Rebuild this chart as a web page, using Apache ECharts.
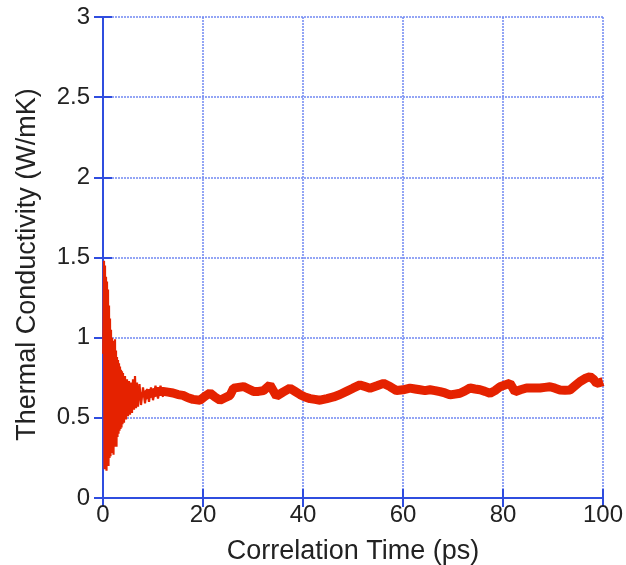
<!DOCTYPE html>
<html>
<head>
<meta charset="utf-8">
<script src="https://cdn.jsdelivr.net/npm/echarts@6/dist/echarts.min.js"></script>
<style>
html, body { margin: 0; padding: 0; background: #fff; }
#chart { width: 626px; height: 565px; }
</style>
</head>
<body>
<div id="chart"></div>
<script>
// axis ticks
var xTicks = [0, 20, 40, 60, 80, 100];
var yTicks = [0, 0.5, 1, 1.5, 2, 2.5, 3];

// early oscillating part (0-12 ps), read as alternating peaks / troughs
var timeEarly = [0.05, 0.2, 0.3, 0.4, 0.5, 0.6, 0.7, 0.8, 0.9, 1.0, 1.1, 1.2, 1.3, 1.4, 1.5, 1.6, 1.7, 1.8, 1.9, 2.0,
	2.1, 2.2, 2.3, 2.4, 2.5, 2.6, 2.7, 2.8, 2.9, 3.0, 3.1, 3.2, 3.3, 3.4, 3.5, 3.6, 3.7, 3.8, 3.9, 4.0,
	4.2, 4.4, 4.6, 4.8, 5.0, 5.2, 5.4, 5.6, 5.8, 6.0, 6.2, 6.4, 6.6, 6.8, 7.0, 7.3, 7.6, 8.0, 8.4, 8.8,
	9.2, 9.6, 10.0, 10.5, 11.0, 11.5, 12.0];
var valEarly = [0.9, 1.48, 0.18, 1.45, 0.2, 1.38, 0.17, 1.35, 0.22, 1.3, 0.2, 1.2, 0.25, 1.12, 0.26, 1.05, 0.28, 1.0, 0.3, 0.98,
	0.27, 0.95, 0.32, 0.99, 0.34, 0.92, 0.32, 0.88, 0.38, 0.86, 0.4, 0.84, 0.42, 0.82, 0.43, 0.8, 0.44, 0.79, 0.46, 0.78,
	0.47, 0.76, 0.49, 0.74, 0.51, 0.73, 0.52, 0.72, 0.53, 0.74, 0.55, 0.76, 0.56, 0.72, 0.57, 0.71, 0.58, 0.69, 0.59, 0.68,
	0.6, 0.69, 0.61, 0.7, 0.62, 0.7, 0.63];

// settled part (8-100 ps), centre of the noisy band
var timeMain = [8, 9, 10, 11, 12, 13, 14, 15, 16, 17, 18, 19.4, 20.4, 21.4, 22.4, 23.4, 24.4, 25.4, 26.1, 27.1,
	28.1, 29.1, 30.1, 31.1, 32.1, 33.4, 34.7, 36, 37.4, 38.4, 39.4, 40.4, 41.4, 42.4, 43.4, 44.8, 46.1, 47.4, 48.7, 50,
	51.4, 52.4, 53.4, 54.8, 56.1, 57.4, 58.7, 60, 61.4, 62.4, 63.4, 64.4, 65.4, 66.4, 67.4, 68.4, 69.4, 70.4, 71.4, 72.4,
	73.4, 74.4, 75.4, 76.4, 77.4, 78.4, 79.4, 80.4, 81.4, 82.4, 83.5, 84.7, 86, 87.4, 88.4, 89.4, 90.4, 91.4, 92.4, 93.4,
	94.4, 95.4, 96.4, 97.4, 98.1, 98.7, 99.4, 100];
var valMain = [0.635, 0.65, 0.655, 0.665, 0.665, 0.66, 0.655, 0.645, 0.64, 0.625, 0.615, 0.61, 0.635, 0.655, 0.63, 0.61, 0.625, 0.64, 0.685, 0.69,
	0.695, 0.68, 0.665, 0.665, 0.67, 0.705, 0.635, 0.66, 0.685, 0.665, 0.645, 0.63, 0.62, 0.615, 0.61, 0.62, 0.63, 0.645, 0.665, 0.685,
	0.705, 0.695, 0.685, 0.7, 0.715, 0.695, 0.67, 0.675, 0.685, 0.68, 0.675, 0.67, 0.675, 0.67, 0.663, 0.655, 0.643, 0.648, 0.653, 0.668,
	0.686, 0.68, 0.675, 0.665, 0.653, 0.67, 0.694, 0.705, 0.716, 0.663, 0.675, 0.686, 0.686, 0.686, 0.69, 0.694, 0.685, 0.674, 0.672, 0.674,
	0.7, 0.726, 0.745, 0.757, 0.74, 0.716, 0.72, 0.726];

var red = '#e52200';
var blue = '#2f4ddf';
var gridBlue = '#7088f2';
var font = 'Liberation Sans, Arial, Helvetica, sans-serif';

var earlyData = timeEarly.map(function (t, i) { return [t, valEarly[i]]; });
var mainData = timeMain.map(function (t, i) { return [t, valMain[i]]; });

var chart = echarts.init(document.getElementById('chart'));

var option = {
	backgroundColor: '#fff',
	animation: false,
	grid: { left: 103, right: 23, top: 17, bottom: 67, outerBoundsMode: 'none' },
	xAxis: [{
		type: 'value',
		min: xTicks[0],
		max: xTicks[xTicks.length - 1],
		interval: 20,
		name: 'Correlation Time (ps)',
		nameLocation: 'middle',
		nameGap: 40,
		nameTextStyle: { fontFamily: font, fontSize: 27, color: '#222' },
		axisLine: { lineStyle: { color: blue, width: 2 } },
		axisTick: { inside: true, length: 9, lineStyle: { color: blue, width: 2 } },
		axisLabel: { fontFamily: font, fontSize: 24, color: '#222', margin: 5 },
		splitLine: { show: true, lineStyle: { color: gridBlue, type: [2, 1], width: 1.5 } }
	}, {
		type: 'value',
		position: 'top',
		min: xTicks[0],
		max: xTicks[xTicks.length - 1],
		interval: 20,
		axisLine: { lineStyle: { color: blue, width: 2 } },
		axisTick: { inside: true, length: 9, lineStyle: { color: blue, width: 2 } },
		axisLabel: { show: false },
		splitLine: { show: false }
	}],
	yAxis: [{
		type: 'value',
		min: yTicks[0],
		max: yTicks[yTicks.length - 1],
		interval: 0.5,
		name: 'Thermal Conductivity (W/mK)',
		nameLocation: 'middle',
		nameGap: 62,
		nameTextStyle: { fontFamily: font, fontSize: 27, color: '#222', padding: [0, 14, 0, 0] },
		axisLine: { lineStyle: { color: blue, width: 2 } },
		axisTick: { inside: true, length: 9, lineStyle: { color: blue, width: 2 } },
		axisLabel: { fontFamily: font, fontSize: 24, color: '#222', margin: 13 },
		splitLine: { show: true, lineStyle: { color: gridBlue, type: [2, 1], width: 1.5 } }
	}, {
		type: 'value',
		position: 'right',
		min: yTicks[0],
		max: yTicks[yTicks.length - 1],
		interval: 0.5,
		axisLine: { lineStyle: { color: blue, width: 2 } },
		axisTick: { inside: true, length: 9, lineStyle: { color: blue, width: 2 } },
		axisLabel: { show: false },
		splitLine: { show: false }
	}],
	series: [{
		type: 'line',
		data: mainData,
		symbol: 'none',
		lineStyle: { color: red, width: 9 },
		z: 3
	}, {
		type: 'line',
		data: earlyData,
		symbol: 'none',
		lineStyle: { color: red, width: 2.2 },
		z: 4
	}]
};

chart.setOption(option);
</script>
</body>
</html>
